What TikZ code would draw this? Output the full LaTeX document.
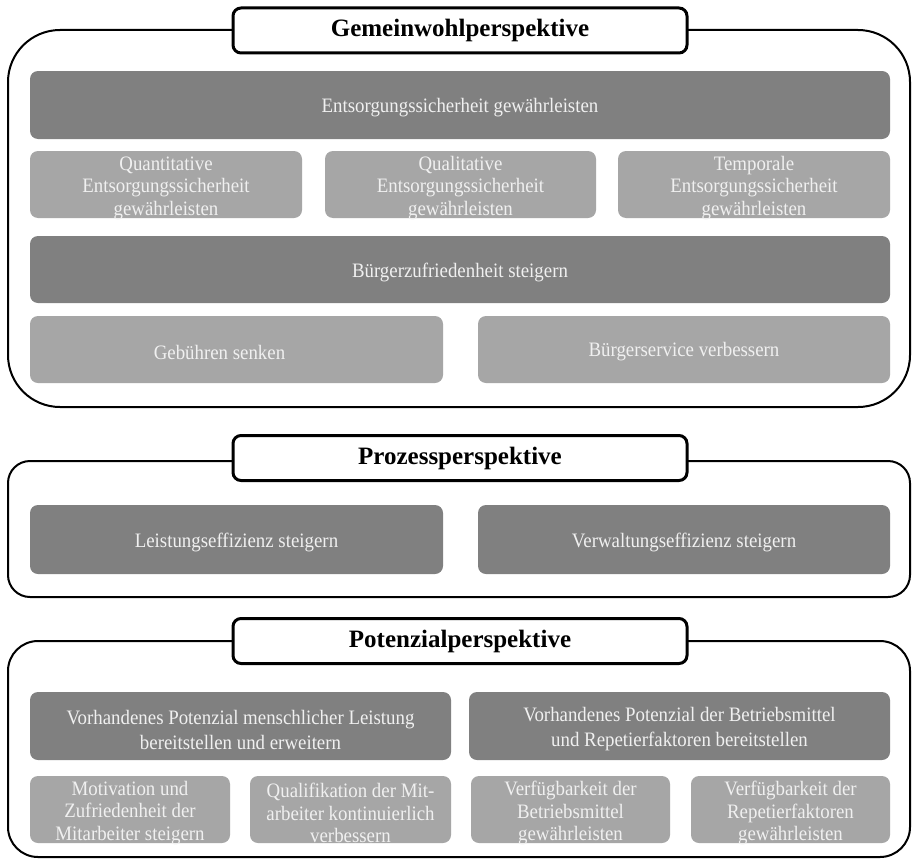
\documentclass[tikz,border=0pt]{standalone}
\usepackage{fontspec}
\setmainfont{Liberation Serif}
\newfontfamily\goalfont[FakeStretch=0.92]{Liberation Serif}
% goal box: #1 style, #2 name, #3 centre, #4 width, #5 height, #6 text offset, #7 text
\newcommand\goalnode[7]{%
  \node[#1, minimum width=#4, minimum height=#5] (#2) at #3 {};
  \node[#1 text] (#2-text) at ([yshift=#6]#2.center) {#7};}
\begin{document}
\begin{tikzpicture}[x=1pt,y=-1pt,
  every node/.style={inner sep=0pt, outer sep=0pt},
  outer/.style={draw=black, line width=2pt, fill=white},
  titlebox/.style={draw=black, line width=3pt, fill=white, rounded corners=8pt,
    minimum width=454pt, minimum height=45pt,
    font=\fontsize{25}{28}\selectfont\bfseries},
  dark/.style={rounded corners=8pt, fill=black!50},
  light/.style={rounded corners=8pt, fill=black!35},
  dark text/.style={align=center, text=white!94!black, font=\goalfont\fontsize{20.5}{25}\selectfont},
  light text/.style={align=center, text=white!94!black, font=\goalfont\fontsize{20.5}{22.5}\selectfont},
]
\useasboundingbox (0,0) rectangle (912,859);

% Gemeinwohlperspektive
\node[outer, rounded corners=52pt, minimum width=902pt, minimum height=377pt] (gwbox) at (459,218.5) {};
\node[titlebox] (gwtitle) at (460,30.5) {Gemeinwohlperspektive};
\goalnode{dark}{ess}{(460,105)}{860pt}{68pt}{-2.5pt}{Entsorgungssicherheit gewährleisten}
\goalnode{light}{quant}{(166,184.5)}{272pt}{67pt}{-3.5pt}{Quantitative\\Entsorgungssicherheit\\gewährleisten}
\goalnode{light}{qual}{(460.5,184.5)}{271pt}{67pt}{-3.5pt}{Qualitative\\Entsorgungssicherheit\\gewährleisten}
\goalnode{light}{temp}{(754,184.5)}{272pt}{67pt}{-3.5pt}{Temporale\\Entsorgungssicherheit\\gewährleisten}
\goalnode{dark}{bz}{(460,269.5)}{860pt}{67pt}{-2.5pt}{Bürgerzufriedenheit steigern}
\goalnode{light}{geb}{(236.5,349.5)}{413pt}{67pt}{-2.5pt}{\hspace*{-34pt}Gebühren senken}
\goalnode{light}{bs}{(684,349.5)}{412pt}{67pt}{-2.5pt}{Bürgerservice verbessern}

% Prozessperspektive
\node[outer, rounded corners=22pt, minimum width=902pt, minimum height=136pt] (prbox) at (459,529) {};
\node[titlebox] (prtitle) at (460,458) {Prozessperspektive};
\goalnode{dark}{le}{(236.5,539.5)}{413pt}{69pt}{-2.5pt}{Leistungseffizienz steigern}
\goalnode{dark}{ve}{(684,539.5)}{412pt}{69pt}{-2.5pt}{Verwaltungseffizienz steigern}

% Potenzialperspektive
\node[outer, rounded corners=30pt, minimum width=902pt, minimum height=216pt] (pobox) at (459,749) {};
\node[titlebox] (potitle) at (460,641) {Potenzialperspektive};
\goalnode{dark}{pm}{(240.5,726)}{421pt}{68pt}{-3.5pt}{Vorhandenes Potenzial menschlicher Leistung\\bereitstellen und erweitern}
\goalnode{dark}{pb}{(679.5,726)}{421pt}{68pt}{-3.5pt}{Vorhandenes Potenzial der Betriebsmittel\\und Repetierfaktoren bereitstellen}
\goalnode{light}{mot}{(130,809.5)}{200pt}{67pt}{-3.5pt}{Motivation und\\Zufriedenheit der\\Mitarbeiter steigern}
\goalnode{light}{qua}{(350.5,809.5)}{201pt}{67pt}{-3.5pt}{Qualifikation der Mit-\\arbeiter kontinuierlich\\verbessern}
\goalnode{light}{vbm}{(570.5,809.5)}{199pt}{67pt}{-3.5pt}{Verfügbarkeit der\\Betriebsmittel\\gewährleisten}
\goalnode{light}{vrf}{(790.5,809.5)}{199pt}{67pt}{-3.5pt}{Verfügbarkeit der\\Repetierfaktoren\\gewährleisten}
\end{tikzpicture}
\end{document}
